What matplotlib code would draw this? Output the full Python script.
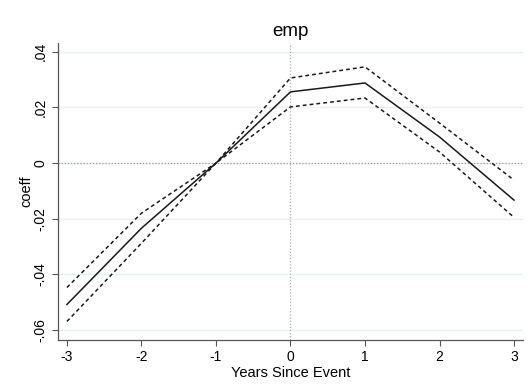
import matplotlib.pyplot as plt

plt.rcParams['font.family'] = ['Liberation Sans', 'DejaVu Sans']
plt.rcParams['axes.unicode_minus'] = False

years = [-3, -2, -1, 0, 1, 2, 3]
coef = [-0.0508, -0.0234, 0.0, 0.0256, 0.0288, 0.0094, -0.0133]
upper = [-0.0447, -0.0180, 0.0, 0.0306, 0.0346, 0.0144, -0.0061]
lower = [-0.0569, -0.0288, 0.0, 0.0202, 0.0234, 0.0040, -0.0195]
yticks = [-0.06, -0.04, -0.02, 0, 0.02, 0.04]
ylabels = ['-.06', '-.04', '-.02', '0', '.02', '.04']

fig = plt.figure(figsize=(5.32, 3.9), dpi=100)
ax = fig.add_axes([0.109, 0.128, 0.874, 0.762])

for t in yticks:
    ax.axhline(t, color='#e8f0f2', lw=1, zorder=0)
ax.axhline(0, color='#9aa0a0', lw=0.9, ls=(0, (1, 1.5)), zorder=1)
ax.axvline(0, color='#b0b0b0', lw=0.9, ls=(0, (1, 1.5)), zorder=1)

ax.plot(years, coef, color='#1a1a1a', lw=1.1)
ax.plot(years, upper, color='#1a1a1a', lw=1.1, ls=(0, (2.5, 2)))
ax.plot(years, lower, color='#1a1a1a', lw=1.1, ls=(0, (2.5, 2)))

ax.set_xlim(-3.12, 3.12)
ax.set_ylim(-0.0636, 0.0432)
ax.set_xticks(years)
ax.set_yticks(yticks)
ax.set_yticklabels(ylabels, rotation=90, va='center')
ax.tick_params(labelsize=10, color='#555555', length=4.5, width=0.8, pad=3)

for s in ['top', 'right']:
    ax.spines[s].set_visible(False)
for s in ['left', 'bottom']:
    ax.spines[s].set_color('#555555')
    ax.spines[s].set_linewidth(0.9)

ax.set_xlabel('Years Since Event', fontsize=10.5, labelpad=1)
ax.set_ylabel('coeff', fontsize=10.5)
ax.yaxis.set_label_coords(-0.052, 0.5)
ax.set_title('emp', fontsize=13.5, pad=5)

fig.savefig('out.png', dpi=100)
